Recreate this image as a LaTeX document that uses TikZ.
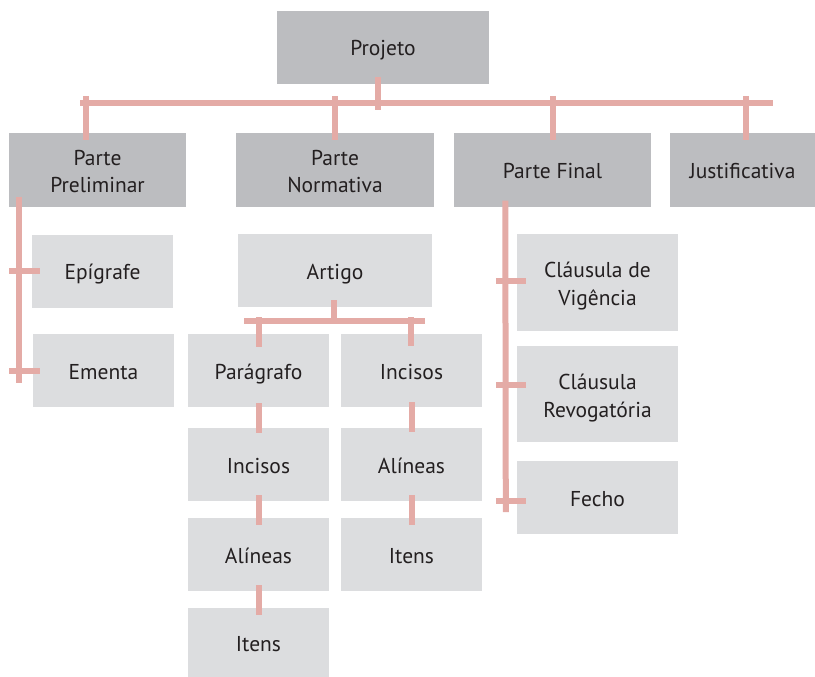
\documentclass[tikz,border=0pt]{standalone}
\usepackage{fontspec}
\setmainfont{PT Sans}
\usepackage{tikz}
\usetikzlibrary{calc,positioning}
\definecolor{boxdark}{RGB}{188,189,192}
\definecolor{boxlight}{RGB}{220,221,223}
\definecolor{linkpink}{RGB}{228,171,166}
\definecolor{txtgray}{RGB}{35,31,32}
\tikzset{
		mainbox/.style={
			rectangle,
			fill=boxdark,
			inner sep=0pt,
			minimum height=73pt,
			text=txtgray,
			align=center,
			text height=21pt,
			text depth=4pt,
			font=\fontsize{21.5}{28}\selectfont},
		subbox/.style={
			mainbox,
			fill=boxlight},
		twolines/.style={text height=50pt},
		link/.style={draw=linkpink, line width=6pt},
	}
\begin{document}
\begin{tikzpicture}[x=1pt,y=-1pt]
				\useasboundingbox (0,0) rectangle (815,677);
				%% top level
				\node[mainbox, minimum width=212pt] (proj) at (383,47.5) {Projeto};
				\node[mainbox, twolines, minimum width=177pt] (prel) at (97.5,170) {Parte\\Preliminar};
				\node[mainbox, twolines, minimum width=198pt] (norm) at (335,170) {Parte\\Normativa};
				\node[mainbox, minimum width=197pt] (final) at (552.5,170) {Parte Final};
				\node[mainbox, minimum width=145pt] (just) at (742.5,170) {Justificativa};
				
				%% Parte Preliminar
				\node[subbox, minimum width=141pt] (epig) at (102.5,271) {Epígrafe};
				\node[subbox, minimum width=141pt] (ementa) at (103.5,370.5) {Ementa};
				
				%% Parte Normativa
				\node[subbox, minimum width=194pt] (artigo) at (335,270.5) {Artigo};
				\node[subbox, minimum width=141pt] (parag) at (258.5,370.5) {Parágrafo};
				\node[subbox, minimum width=141pt] (incA) at (258.5,464.5) {Incisos};
				\node[subbox, minimum width=141pt] (alinA) at (258.5,554.5) {Alíneas};
				\node[subbox, minimum width=141pt, minimum height=69pt] (itensA) at (258.5,642.5) {Itens};
				\node[subbox, minimum width=141pt] (incB) at (411.5,370.5) {Incisos};
				\node[subbox, minimum width=141pt] (alinB) at (411.5,464.5) {Alíneas};
				\node[subbox, minimum width=141pt] (itensB) at (411.5,554.5) {Itens};
				
				%% Parte Final
				\node[subbox, twolines, minimum width=161pt, minimum height=97pt] (vig) at (597.5,282.5) {Cláusula de\\Vigência};
				\node[subbox, twolines, minimum width=161pt, minimum height=96pt] (revog) at (597.5,394) {Cláusula\\Revogatória};
				\node[subbox, minimum width=161pt] (fecho) at (597.5,497.5) {Fecho};
				
				%% No. 1 -- main bar
				\coordinate (barL) at (80,103);
				\coordinate (barR) at (773,103);
				\draw[link] (barL) -- (barR);
				\draw[link] ($(proj.south)+(-5,-7)$) -- ($(proj.south |- barR)+(-5,7)$);
				\draw[link] ($(prel.north |- barL)+(-11.5,-7)$) -- ($(prel.north)+(-11.5,7)$);
				\draw[link] ($(norm.north |- barL)+(0,-7)$) -- ($(norm.north)+(0,7)$);
				\draw[link] ($(final.north |- barL)+(0.5,-7)$) -- ($(final.north)+(0.5,7)$);
				\draw[link] ($(just.north |- barL)+(3.5,-7)$) -- ($(just.north)+(3.5,7)$);
				
				%% No. 2 -- preliminar
				\draw[link] ($(prel.south west)+(10,-10)$) -- ($(ementa.west)+(-14,12.5)$);
				\draw[link] ($(epig.west)+(-23,0)$) -- ($(epig.west)+(8,0)$);
				\draw[link] ($(ementa.west)+(-24,0)$) -- ($(ementa.west)+(7,0)$);
				
				%% No. 3 -- normativa
				\coordinate (artL) at (244,321);
				\coordinate (artR) at (425,321);
				\draw[link] (artL) -- (artR);
				\draw[link] ($(artigo.south)+(-1,-7)$) -- ($(artigo.south |- artR)+(-1,3)$);
				\draw[link] ($(parag.north |- artL)+(0,-4)$) -- ($(parag.north)+(0,13)$);
				\draw[link] ($(incB.north |- artR)+(-1,-4)$) -- ($(incB.north)+(-1,12)$);
				\draw[link] ($(parag.south)+(0,-4)$) -- ($(incA.north)+(0,5)$);
				\draw[link] ($(incA.south)+(0,-6)$) -- ($(alinA.north)+(0,7)$);
				\draw[link] ($(alinA.south)+(0,-6)$) -- ($(itensA.north)+(0,7)$);
				\draw[link] ($(incB.south)+(0,-5)$) -- ($(alinB.north)+(0,4)$);
				\draw[link] ($(alinB.south)+(0,-6)$) -- ($(itensB.north)+(0,7)$);
				
				%% No. 4 -- final
				\draw[link] ($(final.south west)+(51.5,-6)$) -- ($(fecho.south west)+(-11,-22)$);
				\draw[link] ($(vig.west)+(-21,-1.5)$) -- ($(vig.west)+(9,-1.5)$);
				\draw[link] ($(revog.west)+(-21,-9)$) -- ($(revog.west)+(9,-9)$);
				\draw[link] ($(fecho.west)+(-21,3.5)$) -- ($(fecho.west)+(9,3.5)$);
				
\end{tikzpicture}
\end{document}
